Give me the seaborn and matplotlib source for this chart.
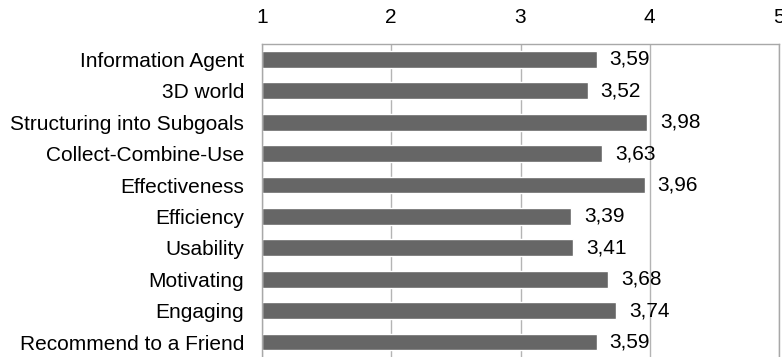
import numpy as np
import pandas as pd
import matplotlib
matplotlib.use('Agg')
import matplotlib.pyplot as plt
import seaborn as sns

# Chart data
categories = ['Information Agent', '3D world', 'Structuring into Subgoals',
              'Collect-Combine-Use', 'Effectiveness', 'Efficiency', 'Usability',
              'Motivating', 'Engaging', 'Recommend to a Friend']
scores = [3.59, 3.52, 3.98, 3.63, 3.96, 3.39, 3.41, 3.68, 3.74, 3.59]
x_ticks = [1, 2, 3, 4, 5]

df = pd.DataFrame({'category': categories, 'score': scores})

sns.set_style('white')
plt.rcParams['font.family'] = ['Liberation Sans', 'DejaVu Sans']

fig = plt.figure(figsize=(7.82, 3.57), dpi=100)
ax = fig.add_axes([262 / 782, -0.002, (779 - 262) / 782, (357 - 43) / 357])

# bars start at 1 (axis minimum), so plot offset from 1
sns.barplot(data=df, y='category', x='score', orient='h', color='#666666',
            width=0.54, saturation=1, ax=ax)
for p in ax.patches:
    w = p.get_width()
    p.set_x(1)
    p.set_width(w - 1)

ax.set_xlim(1, 5)
ax.set_ylim(len(categories) - 0.5, -0.5)
ax.set_xticks(x_ticks)
ax.xaxis.tick_top()
ax.tick_params(axis='x', length=0, labelsize=15, pad=12, labelcolor='#000000')
ax.tick_params(axis='y', which='major', length=0, labelsize=15, pad=13,
               labelcolor='#000000')
ax.set_yticks(np.arange(len(categories) + 1) - 0.5, minor=True)
ax.tick_params(axis='y', which='minor', length=4, color='#a0a0a0', width=1, direction='out')
ax.set_xlabel('')
ax.set_ylabel('')

ax.grid(axis='x', color='#b4b4b4', linewidth=1, linestyle='-')
ax.set_axisbelow(True)
for side in ['top', 'right', 'left', 'bottom']:
    ax.spines[side].set_color('#a8a8a8')
    ax.spines[side].set_linewidth(1)

for i, v in enumerate(scores):
    ax.text(v + 0.1, i, f'{v:.2f}'.replace('.', ','), va='center', ha='left',
            fontsize=15, color='#000000')

fig.savefig('out.png', dpi=100)
